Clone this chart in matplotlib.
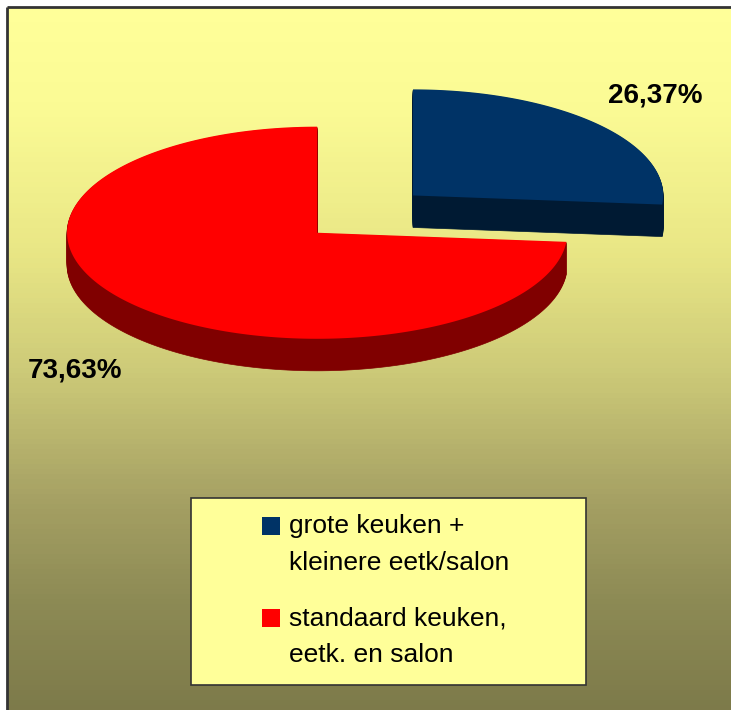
import numpy as np
import matplotlib
matplotlib.use("Agg")
import matplotlib.pyplot as plt
from matplotlib.patches import Polygon, Rectangle
from matplotlib.colors import LinearSegmentedColormap

# data
labels = ["grote keuken +\nkleinere eetk/salon", "standaard keuken,\neetk. en salon"]
values = [26.37, 73.63]
top_colors = ["#003366", "#ff0000"]
side_colors = ["#001a33", "#800000"]

W, H = 731, 710
# small pad so the pixel size does not round down
fig = plt.figure(figsize=((W + 0.4) / 100, (H + 0.4) / 100), dpi=100)
ax = fig.add_axes([0, 0, 1, 1])
ax.set_xlim(0, W)
ax.set_ylim(H, 0)
ax.axis("off")

# background gradient inside the frame, drawn as thin strips
grad = LinearSegmentedColormap.from_list("bg", [
    (0.0, (1.0, 1.0, 0.60)),
    (0.15, (0.98, 0.98, 0.58)),
    (0.35, (0.91, 0.90, 0.52)),
    (0.52, (0.80, 0.79, 0.47)),
    (0.70, (0.65, 0.63, 0.39)),
    (0.85, (0.55, 0.54, 0.33)),
    (1.0, (0.49, 0.48, 0.29)),
])
edges = np.linspace(7, H, 141)
for k in range(len(edges) - 1):
    col = grad(k / (len(edges) - 2))
    ax.add_patch(Rectangle((7, edges[k]), W - 7, edges[k + 1] - edges[k] + 0.6,
                           facecolor=col, edgecolor="none", zorder=0))
# frame: only left and top edges are inside the picture
ax.plot([7, 7], [H, 7], color="#333333", lw=2, zorder=1, solid_capstyle="butt")
ax.plot([7, W], [7, 7], color="#333333", lw=2, zorder=1, solid_capstyle="butt")

# 3D pie geometry
cx, cy = 317, 233
rx, ry = 250, 106
depth = 32
explode = [0.52, 0.0]

fracs = np.array(values) / sum(values)
# red runs counter clockwise from the top, blue fills the rest
red_span = fracs[1] * 360
spans = [(90 + red_span, 450), (90, 90 + red_span)]


def wedge_pts(c, t1, t2):
    t = np.radians(np.linspace(t1, t2, 200))
    xs = np.concatenate([[c[0]], c[0] + rx * np.cos(t)])
    ys = np.concatenate([[c[1]], c[1] - ry * np.sin(t)])
    return np.column_stack([xs, ys])


for i in [0, 1]:
    t1, t2 = spans[i]
    mid = np.radians((t1 + t2) / 2)
    c = (cx + explode[i] * rx * np.cos(mid), cy - explode[i] * ry * np.sin(mid))
    pts = wedge_pts(c, t1, t2)
    for d in range(depth, 0, -1):
        ax.add_patch(Polygon(pts + [0, d], closed=True, facecolor=side_colors[i],
                             edgecolor=side_colors[i], lw=0.5, zorder=2 + i * 2))
    ax.add_patch(Polygon(pts, closed=True, facecolor=top_colors[i], edgecolor="none", zorder=3 + i * 2))

# percentage labels
label_xy = [(655, 95), (75, 370)]
for v, (lx, ly) in zip(values, label_xy):
    ax.text(lx, ly, f"{v:.2f}".replace(".", ",") + "%", ha="center", va="center",
            fontsize=20, fontweight="bold", family="Liberation Sans", zorder=10)

# legend
ax.add_patch(Rectangle((191, 498), 395, 187, facecolor="#ffff99", edgecolor="#333333", lw=1.2, zorder=8))
for i, lab in enumerate(labels):
    y0 = 517 + i * 92
    ax.add_patch(Rectangle((262, y0), 18, 18, facecolor=top_colors[i], edgecolor="none", zorder=9))
    for j, line in enumerate(lab.split("\n")):
        ax.text(289, y0 + 16 + j * 37, line, ha="left", va="baseline", fontsize=19,
                family="Liberation Sans", zorder=10)

fig.savefig("out.png", dpi=100, facecolor="white")
